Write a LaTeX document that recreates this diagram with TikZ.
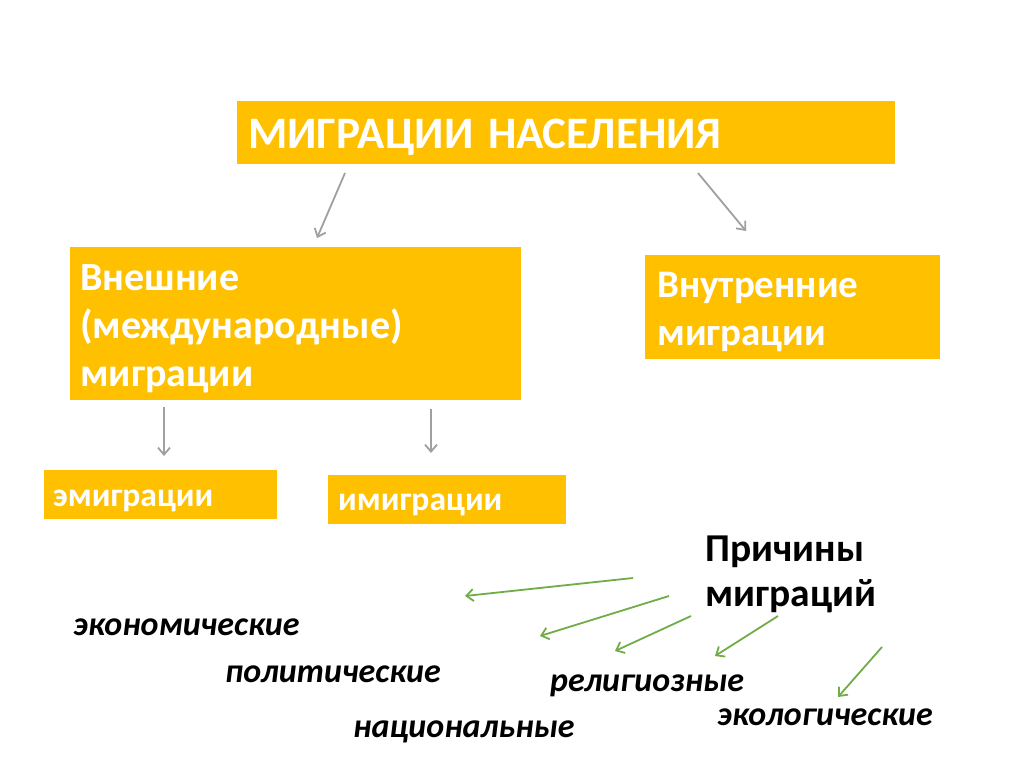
\documentclass[tikz,border=0pt]{standalone}
\usepackage{fontspec}
\setmainfont{Carlito}
\usetikzlibrary{arrows.meta}
\definecolor{boxfill}{HTML}{FFC000}
\definecolor{arrgray}{HTML}{A0A0A0}
\definecolor{arrgreen}{HTML}{70AD47}
\newcommand\raiseby[1]{\rule{0pt}{#1}}
\begin{document}
\begin{tikzpicture}[x=1pt,y=-1pt,
  box/.style={fill=boxfill, draw=none, anchor=north west, align=left, text=white, font=\bfseries, inner ysep=0pt},
  cause/.style={anchor=base west, inner sep=0pt, font=\fontsize{34}{40}\selectfont\bfseries\itshape},
  grayarrow/.style={draw=arrgray, line width=1.8pt, -{Straight Barb[length=7pt,width=12pt,line width=1.8pt]}},
  greenarrow/.style={draw=arrgreen, line width=1.8pt, -{Straight Barb[length=7pt,width=12pt,line width=1.8pt]}}]
\useasboundingbox (0,0) rectangle (1024,767);
\fill[white] (0,0) rectangle (1024,767);

\node[box, minimum width=658pt, minimum height=63pt, text width=636pt, inner xsep=11pt,
  text height=31pt, text depth=0pt,
  font=\fontsize{45}{50}\selectfont\bfseries] (top) at (237,101) {МИГРАЦИИ НАСЕЛЕНИЯ};
\node[box, minimum width=451pt, minimum height=153pt, text width=431pt, inner xsep=10pt,
  font=\fontsize{40}{48}\selectfont\bfseries] (ext) at (70,247) {\raiseby{36pt}Внешние\\(международные)\\миграции};
\node[box, minimum width=295pt, minimum height=104pt, text width=271pt, inner xsep=12pt,
  font=\fontsize{39}{48}\selectfont\bfseries] (int) at (645,255) {\raiseby{35pt}Внутренние\\миграции};
\node[box, minimum width=233pt, minimum height=49pt, text width=215pt, inner xsep=9pt,
  text height=23pt, text depth=0pt,
  font=\fontsize{33.6}{40}\selectfont\bfseries] (emi) at (44,470) {эмиграции};
\node[box, minimum width=238pt, minimum height=49pt, text width=218pt, inner xsep=10pt,
  text height=21pt, text depth=0pt,
  font=\fontsize{33.6}{40}\selectfont\bfseries] (imi) at (328,475) {имиграции};

\node[anchor=north west, inner sep=0pt, align=left, font=\fontsize{39.5}{45}\selectfont\bfseries] (why) at (705,536) {Причины\\миграций};

\node[cause] (eco) at (73,635) {экономические};
\node[cause] (pol) at (225,682) {политические};
\node[cause] (rel) at (550,691) {религиозные};
\node[cause] (nat) at (353,737) {национальные};
\node[cause] (ecl) at (717,725) {экологические};

% arrow end points
\coordinate (ga1) at (345,173); \coordinate (ga2) at (317,238);
\coordinate (gb1) at (698,173); \coordinate (gb2) at (746,231);
\coordinate (gc1) at (164,407); \coordinate (gc2) at (164,456);
\coordinate (gd1) at (431,409); \coordinate (gd2) at (431,453);
\draw[grayarrow] (ga1) -- (ga2);
\draw[grayarrow] (gb1) -- (gb2);
\draw[grayarrow] (gc1) -- (gc2);
\draw[grayarrow] (gd1) -- (gd2);

\coordinate (r1s) at (633,578); \coordinate (r1e) at (465,596);
\coordinate (r2s) at (669,596); \coordinate (r2e) at (540,636);
\coordinate (r3s) at (691,616); \coordinate (r3e) at (615,651);
\coordinate (r4s) at (778,616); \coordinate (r4e) at (715,656);
\coordinate (r5s) at (882,647); \coordinate (r5e) at (838,697);
\draw[greenarrow] (r1s) -- (r1e);
\draw[greenarrow] (r2s) -- (r2e);
\draw[greenarrow] (r3s) -- (r3e);
\draw[greenarrow] (r4s) -- (r4e);
\draw[greenarrow] (r5s) -- (r5e);
\end{tikzpicture}
\end{document}
